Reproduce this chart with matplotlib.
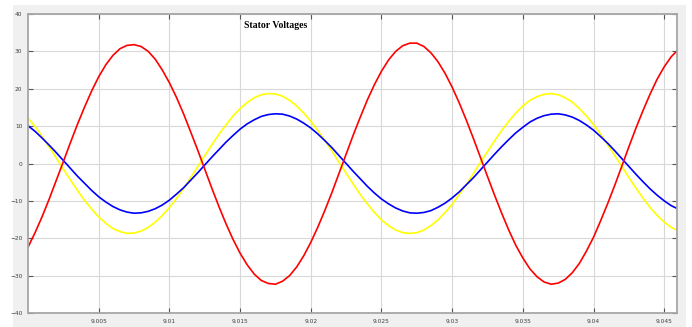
import matplotlib
matplotlib.use("Agg")
import matplotlib.pyplot as plt
from matplotlib.patches import Rectangle

# sample times (s) and the three stator phase voltages
time_s = [
    9.0000, 9.0005, 9.0010, 9.0015, 9.0020, 9.0025, 9.0030, 9.0035, 9.0040, 9.0045,
    9.0050, 9.0055, 9.0060, 9.0065, 9.0070, 9.0075, 9.0080, 9.0085, 9.0090, 9.0095,
    9.0100, 9.0105, 9.0110, 9.0115, 9.0120, 9.0125, 9.0130, 9.0135, 9.0140, 9.0145,
    9.0150, 9.0155, 9.0160, 9.0165, 9.0170, 9.0175, 9.0180, 9.0185, 9.0190, 9.0195,
    9.0200, 9.0205, 9.0210, 9.0215, 9.0220, 9.0225, 9.0230, 9.0235, 9.0240, 9.0245,
    9.0250, 9.0255, 9.0260, 9.0265, 9.0270, 9.0275, 9.0280, 9.0285, 9.0290, 9.0295,
    9.0300, 9.0305, 9.0310, 9.0315, 9.0320, 9.0325, 9.0330, 9.0335, 9.0340, 9.0345,
    9.0350, 9.0355, 9.0360, 9.0365, 9.0370, 9.0375, 9.0380, 9.0385, 9.0390, 9.0395,
    9.0400, 9.0405, 9.0410, 9.0415, 9.0420, 9.0425, 9.0430, 9.0435, 9.0440, 9.0445,
    9.0450, 9.0455, 9.0460,
]
v_red = [
    -22.4, -18.5, -14.2, -9.5, -4.5, 0.5, 5.6, 10.5, 15.1, 19.4,
    23.2, 26.4, 28.9, 30.7, 31.6, 31.8, 31.3, 30.0, 27.9, 25.0,
    21.6, 17.7, 13.3, 8.5, 3.6, -1.5, -6.6, -11.5, -16.1, -20.3,
    -24.0, -27.1, -29.6, -31.3, -32.1, -32.3, -31.5, -30.0, -27.7, -24.7,
    -21.1, -17.0, -12.5, -7.7, -2.6, 2.5, 7.6, 12.4, 17.0, 21.1,
    24.7, 27.7, 30.0, 31.5, 32.2, 32.2, 31.3, 29.6, 27.2, 24.1,
    20.4, 16.2, 11.6, 6.7, 1.6, -3.5, -8.5, -13.3, -17.8, -21.9,
    -25.3, -28.2, -30.3, -31.7, -32.3, -32.0, -31.0, -29.2, -26.7, -23.4,
    -19.7, -15.3, -10.7, -5.8, -0.7, 4.5, 9.5, 14.2, 18.6, 22.6,
    25.9, 28.6, 30.5,
]
v_blue = [
    10.1, 8.6, 6.8, 4.9, 2.9, 0.8, -1.3, -3.4, -5.3, -7.2,
    -8.9, -10.3, -11.5, -12.4, -13.0, -13.3, -13.2, -12.8, -12.1, -11.1,
    -9.8, -8.2, -6.5, -4.5, -2.5, -0.4, 1.7, 3.7, 5.7, 7.5,
    9.2, 10.6, 11.7, 12.6, 13.1, 13.3, 13.2, 12.7, 11.9, 10.8,
    9.5, 7.9, 6.1, 4.2, 2.1, 0.0, -2.1, -4.1, -6.1, -7.9,
    -9.5, -10.8, -11.9, -12.7, -13.2, -13.3, -13.1, -12.6, -11.7, -10.6,
    -9.2, -7.6, -5.7, -3.8, -1.7, 0.4, 2.5, 4.5, 6.4, 8.2,
    9.7, 11.1, 12.1, 12.8, 13.2, 13.3, 13.0, 12.4, 11.5, 10.3,
    8.9, 7.2, 5.4, 3.4, 1.3, -0.8, -2.9, -4.9, -6.8, -8.5,
    -10.0, -11.3, -12.2,
]
v_yellow = [
    12.2, 9.9, 7.2, 4.4, 1.5, -1.5, -4.4, -7.2, -9.9, -12.2,
    -14.3, -16.0, -17.4, -18.2, -18.7, -18.6, -18.1, -17.1, -15.7, -13.9,
    -11.8, -9.4, -6.7, -3.8, -0.9, 2.1, 5.0, 7.8, 10.3, 12.7,
    14.7, 16.3, 17.6, 18.4, 18.7, 18.6, 18.0, 16.9, 15.4, 13.5,
    11.3, 8.8, 6.1, 3.3, 0.3, -2.6, -5.5, -8.3, -10.8, -13.1,
    -15.1, -16.6, -17.8, -18.5, -18.7, -18.5, -17.8, -16.6, -15.1, -13.1,
    -10.9, -8.3, -5.6, -2.7, 0.3, 3.2, 6.1, 8.8, 11.3, 13.5,
    15.4, 16.9, 17.9, 18.5, 18.7, 18.4, 17.6, 16.4, 14.7, 12.7,
    10.4, 7.8, 5.0, 2.1, -0.8, -3.8, -6.6, -9.3, -11.8, -13.9,
    -15.7, -17.1, -18.1,
]

x_ticks = [9.005, 9.01, 9.015, 9.02, 9.025, 9.03, 9.035, 9.04, 9.045]
x_labels = ["9.005", "9.01", "9.015", "9.02", "9.025", "9.03", "9.035", "9.04", "9.045"]
y_ticks = [-40, -30, -20, -10, 0, 10, 20, 30, 40]

fig = plt.figure(figsize=(6.92, 3.27), dpi=100, facecolor="white")
fig.patches.append(Rectangle((13 / 692, 0), 673 / 692, 322 / 327,
                             transform=fig.transFigure, facecolor="#f0f0f0",
                             edgecolor="none", zorder=-10))

ax = fig.add_axes([28 / 692, 14 / 327, 649 / 692, 299 / 327])
ax.set_facecolor("white")

ax.plot(time_s, v_yellow, color="#ffff00", linewidth=1.2)
ax.plot(time_s, v_blue, color="#0000ff", linewidth=1.2)
ax.plot(time_s, v_red, color="#ff0000", linewidth=1.2)

ax.set_xlim(9.0, 9.0459)
ax.set_ylim(-40, 40)
ax.set_xticks(x_ticks)
ax.set_xticklabels(x_labels)
ax.set_yticks(y_ticks)

ax.grid(True, color="#d8d8d8", linewidth=0.8)
ax.set_axisbelow(True)
for side in ax.spines.values():
    side.set_color("#a6a6a6")
    side.set_linewidth(1.3)

ax.tick_params(direction="in", length=3.5, width=0.8, color="#555555",
               top=True, right=True, labelsize=4.2, labelcolor="#404040", pad=4)

ax.text(0.333, 0.962, "Stator Voltages", transform=ax.transAxes,
        family="Liberation Serif", fontweight="bold", fontsize=7,
        ha="left", va="center", color="black")

fig.savefig("out.png", dpi=100, facecolor=fig.get_facecolor())
